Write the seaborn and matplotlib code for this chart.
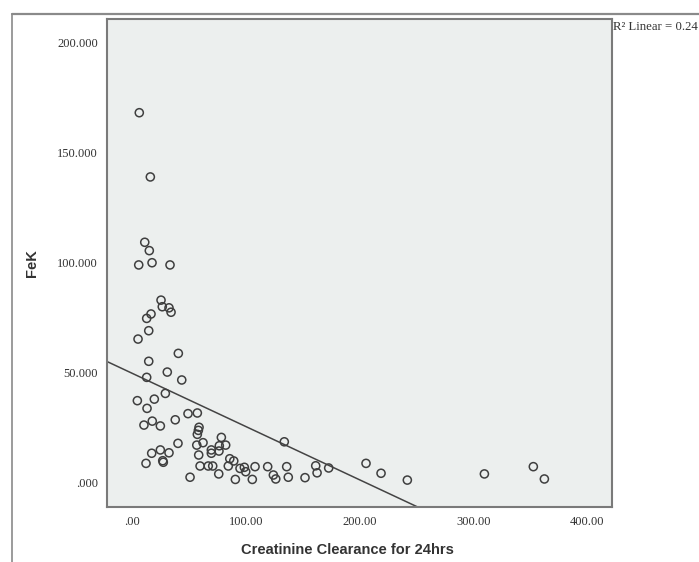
import numpy as np
import pandas as pd
import seaborn as sns
import matplotlib
matplotlib.use("Agg")
import matplotlib.pyplot as plt
from matplotlib.lines import Line2D

# values
clearance = [6.4, 16.1, 11.2, 15.2, 5.9, 17.6, 33.4, 25.5, 26.6, 32.5,
             34.3, 16.7, 12.9, 14.7, 5.3, 40.7, 14.7, 31.0, 12.9, 43.7,
             4.7, 19.6, 29.3, 13.2, 49.2, 57.4, 10.5, 17.8, 24.9, 38.0,
             58.9, 58.3, 57.4, 78.5, 40.4, 56.9, 62.4, 76.7, 82.3, 133.8,
             17.3, 24.9, 32.5, 12.3, 27.0, 27.5, 58.6, 69.7, 69.7, 76.4,
             59.8, 67.0, 70.9, 85.9, 89.4, 84.6, 94.9, 99.9, 98.7, 108.1,
             119.2, 135.9, 124.2, 126.3, 137.3, 161.4, 162.6, 172.8, 205.6, 218.8,
             51.0, 76.2, 90.8, 105.7, 152.0, 241.9, 309.6, 352.6, 362.3]
fek = [168.2, 139.0, 109.3, 105.5, 99.0, 100.0, 99.0, 83.0, 80.0, 79.5,
       77.5, 76.7, 74.7, 69.1, 65.3, 58.8, 55.2, 50.3, 47.9, 46.7,
       37.3, 38.0, 40.6, 33.8, 31.4, 31.7, 26.2, 28.0, 25.8, 28.6,
       25.2, 23.8, 22.0, 20.6, 17.9, 17.1, 18.2, 16.8, 17.1, 18.6,
       13.4, 14.9, 13.6, 8.8, 10.0, 9.3, 12.6, 14.9, 13.4, 14.4,
       7.6, 7.6, 7.6, 10.9, 9.9, 7.6, 6.5, 5.0, 7.0, 7.3,
       7.3, 7.3, 3.5, 1.7, 2.5, 7.7, 4.5, 6.7, 8.8, 4.3,
       2.5, 4.0, 1.5, 1.5, 2.3, 1.2, 4.0, 7.3, 1.7]

x_ticks = [0, 100, 200, 300, 400]
x_ticklabels = [".00", "100.00", "200.00", "300.00", "400.00"]
y_ticks = [0, 50, 100, 150, 200]
y_ticklabels = [".000", "50.000", "100.000", "150.000", "200.000"]

df = pd.DataFrame({"Creatinine Clearance for 24hrs": clearance, "FeK": fek})

sns.set_style("white")
fig = plt.figure(figsize=(6.99, 5.62), dpi=100)
ax = fig.add_axes([0.1527, 0.0984, 0.7233, 0.8678])
ax.set_facecolor("#ECEFEE")
ax.set_xlim(-22.2, 422)
ax.set_ylim(-10.9, 210.8)

sns.regplot(data=df, x="Creatinine Clearance for 24hrs", y="FeK", ax=ax,
            scatter=False, ci=None, truncate=False,
            line_kws={"color": "#444444", "lw": 1.1})
sns.scatterplot(data=df, x="Creatinine Clearance for 24hrs", y="FeK", ax=ax,
                marker="o", s=34, facecolor="none", edgecolor="#3f3f3f",
                linewidth=1.1, zorder=3)

ax.set_xlim(-22.2, 422)
ax.set_ylim(-10.9, 210.8)

ax.set_xticks(x_ticks)
ax.set_xticklabels(x_ticklabels, family="Liberation Serif", fontsize=9, color="#333333")
ax.set_yticks(y_ticks)
ax.set_yticklabels(y_ticklabels, family="Liberation Serif", fontsize=9, color="#333333")
ax.tick_params(direction="out", length=4.5, width=1.1, color="#555555", pad=2)

for sp in ax.spines.values():
    sp.set_color("#7a7a7a")
    sp.set_linewidth(1.5)

ax.set_xlabel("Creatinine Clearance for 24hrs", family="Liberation Sans",
              fontweight="bold", fontsize=10.5, color="#333333")
ax.set_ylabel("FeK", family="Liberation Sans", fontweight="bold",
              fontsize=10.5, color="#333333")
ax.xaxis.set_label_coords(0.477, -0.074)
ax.yaxis.set_label_coords(-0.134, 0.5)

# outer frame of the SPSS chart
fig.add_artist(Line2D([12 / 699, 1.0], [1 - 14 / 562, 1 - 14 / 562],
                      transform=fig.transFigure, color="#8a8a8a", lw=1.6))
fig.add_artist(Line2D([12 / 699, 12 / 699], [0.0, 1 - 14 / 562],
                      transform=fig.transFigure, color="#8a8a8a", lw=1.2))

fig.text(613 / 699, 1 - 27 / 562, "R² Linear = 0.24", family="Liberation Serif",
         fontsize=9.2, color="#333333", ha="left", va="center")

fig.savefig("out.png", dpi=100, facecolor="white")
